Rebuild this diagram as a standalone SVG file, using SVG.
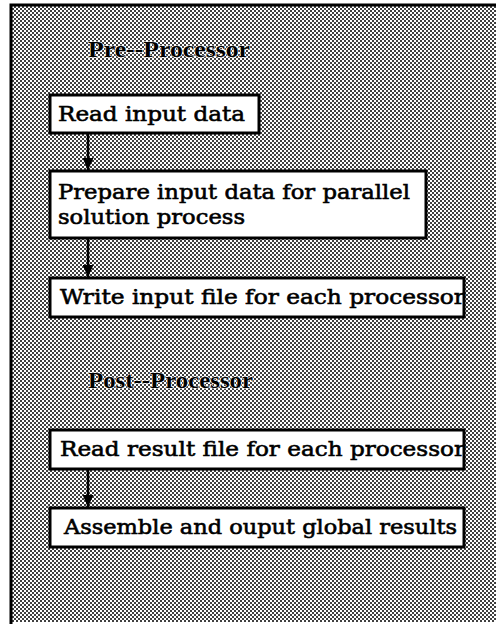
<svg xmlns="http://www.w3.org/2000/svg" width="496" height="624" viewBox="0 0 496 624">
  <defs>
    <!-- halftone screen used for the panel background -->
    <pattern id="screen" x="0" y="0" width="4" height="4" patternUnits="userSpaceOnUse">
      <rect width="4" height="4" fill="#ffffff"/>
      <rect x="0" y="0" width="2" height="2" fill="#404040"/>
      <rect x="2" y="2" width="2" height="2" fill="#404040"/>
    </pattern>
    <!-- solid arrowhead pointing along the path direction -->
    <marker id="arrow" viewBox="0 0 12 11" refX="12" refY="5.5" markerWidth="12" markerHeight="11" markerUnits="userSpaceOnUse" orient="auto">
      <path d="M0,0 L12,5.5 L0,11 Z" fill="#000"/>
    </marker>
  </defs>
  <style>
    .box { fill: #ffffff; stroke: #000; stroke-width: 3; }
    .label { font-family: "DejaVu Serif", "Liberation Serif", serif; font-size: 21px; fill: #000; stroke: #000; stroke-width: 0.6; }
    .title { font-family: "Liberation Serif", "DejaVu Serif", serif; font-size: 23px; font-weight: bold; fill: #000; stroke: #fff; stroke-width: 1; paint-order: stroke; }
    .link { stroke: #000; stroke-width: 2.5; fill: none; }
  </style>

  <rect width="496" height="624" fill="#ffffff"/>

  <!-- panel -->
  <g id="panel">
    <rect x="11" y="5" width="485" height="617" fill="url(#screen)"/>
    <path d="M11,624 L11,5 L496,5" fill="none" stroke="#000" stroke-width="3"/>
  </g>

  <!-- section headings -->
  <g id="pre-title">
    <text class="title" x="88" y="57" textLength="162" lengthAdjust="spacingAndGlyphs">Pre--Processor</text>
  </g>
  <g id="post-title">
    <text class="title" x="88" y="388" textLength="165" lengthAdjust="spacingAndGlyphs">Post--Processor</text>
  </g>

  <!-- connectors -->
  <g id="connectors">
    <line class="link" x1="88" y1="134" x2="88" y2="170" marker-end="url(#arrow)"/>
    <line class="link" x1="88" y1="239" x2="88" y2="277" marker-end="url(#arrow)"/>
    <line class="link" x1="88" y1="470" x2="88" y2="507" marker-end="url(#arrow)"/>
  </g>

  <!-- pre-processor steps -->
  <g id="read-input">
    <rect class="box" x="50" y="95" width="209" height="38"/>
    <text class="label" x="58" y="121" textLength="187" lengthAdjust="spacingAndGlyphs">Read input data</text>
  </g>
  <g id="prepare-input">
    <rect class="box" x="50" y="171" width="376" height="67"/>
    <text class="label" x="58" y="199" textLength="352" lengthAdjust="spacingAndGlyphs">Prepare input data for parallel</text>
    <text class="label" x="58" y="224" textLength="187" lengthAdjust="spacingAndGlyphs">solution process</text>
  </g>
  <g id="write-input">
    <rect class="box" x="50" y="278" width="414" height="39"/>
    <text class="label" x="60" y="304" textLength="405" lengthAdjust="spacingAndGlyphs">Write input file for each processor</text>
  </g>

  <!-- post-processor steps -->
  <g id="read-result">
    <rect class="box" x="50" y="430" width="414" height="39"/>
    <text class="label" x="60" y="456" textLength="405" lengthAdjust="spacingAndGlyphs">Read result file for each processor</text>
  </g>
  <g id="assemble">
    <rect class="box" x="50" y="508" width="414" height="39"/>
    <text class="label" x="64" y="534" textLength="393" lengthAdjust="spacingAndGlyphs">Assemble and ouput global results</text>
  </g>
</svg>
